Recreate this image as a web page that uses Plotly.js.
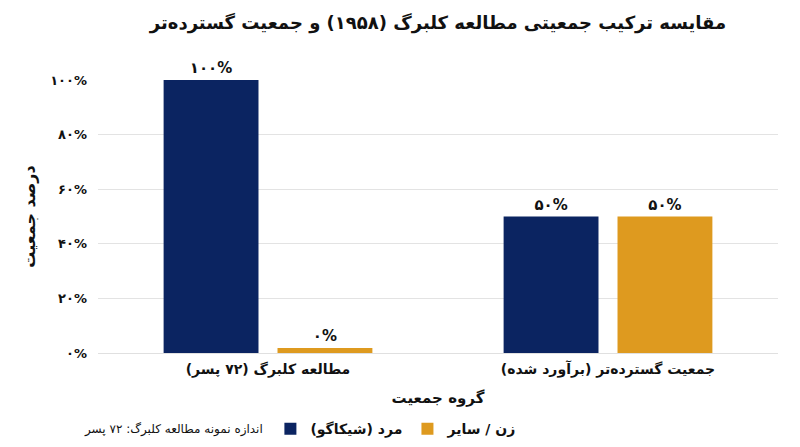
<!DOCTYPE html>
<html>
<head>
<meta charset="utf-8">
<script src="https://cdn.plot.ly/plotly-3.0.1.min.js"></script>
<style>
  body { margin: 0; background: #fff; }
  #chart { width: 800px; height: 447px; }
</style>
</head>
<body>
<div id="chart"></div>
<script>
// RLM keeps the parentheses in right-to-left order inside svg text
var RLM = "\u200F";

var groups = [
  RLM + "مطالعه کلبرگ (۷۲ پسر)" + RLM,
  RLM + "جمعیت گسترده‌تر (برآورد شده)" + RLM
];
var maleValues = [100, 50];
var femaleValues = [1.8, 50];
var maleLabels = ["۱۰۰%", "۵۰%"];
var femaleLabels = ["۰%", "۵۰%"];
var tickVals = [0, 20, 40, 60, 80, 100];
var tickLabels = ["۰%", "۲۰%", "۴۰%", "۶۰%", "۸۰%", "۱۰۰%"];

var FONT = "DejaVu Sans, Noto Sans, sans-serif";
var navy = "#0b2461";
var gold = "#de9a1f";

var male = {
  x: groups,
  y: maleValues,
  type: "bar",
  name: RLM + "مرد (شیکاگو)" + RLM,
  marker: {color: navy},
  text: maleLabels,
  textposition: "outside",
  cliponaxis: false,
  textfont: {family: FONT, size: 15, color: "#111", weight: "bold"},
  hoverinfo: "none"
};

var female = {
  x: groups,
  y: femaleValues,
  type: "bar",
  name: "زن / سایر",
  marker: {color: gold},
  text: femaleLabels,
  textposition: "outside",
  cliponaxis: false,
  textfont: {family: FONT, size: 15, color: "#111", weight: "bold"},
  hoverinfo: "none"
};

var layout = {
  width: 800,
  height: 447,
  margin: {l: 98, r: 22, t: 80, b: 94},
  paper_bgcolor: "#fff",
  plot_bgcolor: "#fff",
  font: {family: FONT, color: "#111"},
  title: {
    text: "<b>مقایسه ترکیب جمعیتی مطالعه کلبرگ (۱۹۵۸) و جمعیت گسترده‌تر</b>",
    x: 0.5,
    xref: "paper",
    yref: "container",
    y: 0.95,
    yanchor: "middle",
    font: {family: FONT, size: 18, color: "#111"}
  },
  barmode: "group",
  bargap: 0.33,
  bargroupgap: 0.167,
  xaxis: {
    tickfont: {family: FONT, size: 14, color: "#111", weight: "bold"},
    title: {text: "<b>گروه جمعیت</b>", font: {family: FONT, size: 15, color: "#111"}, standoff: 15},
    showline: false,
    ticks: "",
    ticklabelstandoff: 6,
    automargin: false
  },
  yaxis: {
    range: [0, 100],
    tickvals: tickVals,
    ticktext: tickLabels,
    tickfont: {family: FONT, size: 13, color: "#111", weight: "bold"},
    gridcolor: "#e3e3e3",
    zerolinecolor: "#e0e0e0",
    zerolinewidth: 1,
    ticks: "",
    ticklabelstandoff: 10,
    automargin: false,
    title: {text: "<b>درصد جمعیت</b>", font: {family: FONT, size: 16, color: "#111"}, standoff: 10}
  },
  showlegend: true,
  legend: {
    orientation: "h",
    xref: "container",
    yref: "container",
    x: 0.338,
    xanchor: "left",
    y: 0.04,
    yanchor: "middle",
    itemwidth: 30,
    font: {family: FONT, size: 14, color: "#111", weight: "bold"}
  },
  annotations: [{
    text: "اندازه نمونه مطالعه کلبرگ: ۷۲ پسر",
    xref: "paper",
    yref: "paper",
    x: 0.246,
    y: -0.282,
    xanchor: "right",
    yanchor: "middle",
    showarrow: false,
    font: {family: FONT, size: 12, color: "#111"}
  }]
};

Plotly.newPlot("chart", [male, female], layout, {displayModeBar: false, staticPlot: true});
</script>
</body>
</html>
